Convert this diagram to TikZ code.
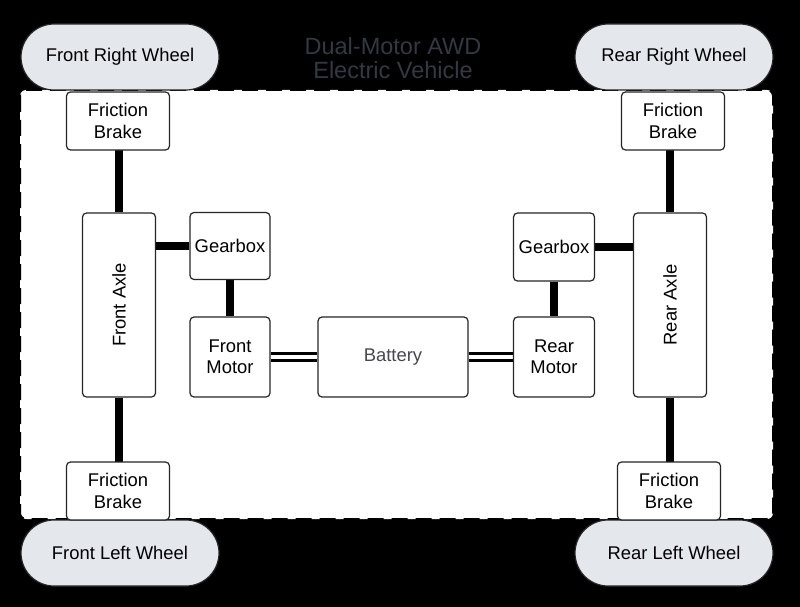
\documentclass[tikz,border=0pt]{standalone}
\usepackage{fontspec}
\setmainfont{Liberation Sans}
\usetikzlibrary{arrows,shapes}
\pgfdeclarelayer{canvas}
\pgfdeclarelayer{background}
\pgfsetlayers{canvas,background,main}
\definecolor{wheelgray}{RGB}{228,231,236}
\definecolor{titlegray}{RGB}{52,56,66}
\definecolor{battgray}{RGB}{70,72,76}
\tikzstyle{block}=[draw=black!85,fill=white,rounded corners=4pt,line width=1.2pt,align=center,inner sep=0pt,font=\fontsize{18.4}{21.5}\selectfont]
\tikzstyle{brake}=[block,minimum width=103pt,minimum height=58pt]
\tikzstyle{wheel}=[block,fill=wheelgray,rounded corners=33pt,minimum width=198pt,minimum height=66pt]
\tikzstyle{axle}=[block,rotate=90,minimum width=184pt,minimum height=73pt]
\tikzstyle{shaft}=[draw,line width=8pt,-]
\tikzstyle{power}=[draw,line width=3pt,double=white,double distance=4pt,-]
\tikzstyle{frame}=[draw,fill=white,line width=2pt,dash pattern=on 16pt off 8pt,rounded corners=6pt]

\begin{document}
\begin{tikzpicture}[x=1pt,y=-1pt]
    \useasboundingbox (0,0) rectangle (800,607);
    \begin{pgfonlayer}{canvas}
        \fill[black] (0,0) rectangle (800,607);
        \path[frame] (20,90) rectangle (773,519);
    \end{pgfonlayer}

    % Title
    \node[text=titlegray,align=center,font=\fontsize{23.5}{24}\selectfont] (title) at (393,58) {Dual-Motor AWD\\Electric Vehicle};

    % First we draw the wheels and brakes
    \foreach \pos/\name/\label in {{(120,57)/frw/Front Right Wheel}, {(674,57)/rrw/Rear Right Wheel}, {(120,553)/flw/Front Left Wheel}, {(674,553)/rlw/Rear Left Wheel}}
        \node[wheel] (\name) at \pos {\label};
    \foreach \pos/\name in {{(118,121)/fb_1}, {(673,121)/fb_2}, {(118,491)/fb_3}, {(669,491)/fb_4}}
        \node[brake] (\name) at \pos {Friction\\Brake};

    % Axles, gearboxes, motors and battery
    \node[axle] (faxle) at (119,305) {Front Axle};
    \node[axle] (raxle) at (670,305) {Rear Axle};
    \node[block,minimum width=80pt,minimum height=67pt] (fgear) at (230,246) {Gearbox};
    \node[block,minimum width=81pt,minimum height=68pt] (rgear) at (554,247) {Gearbox};
    \node[block,minimum width=80pt,minimum height=80pt] (fmotor) at (230,357) {Front\\Motor};
    \node[block,minimum width=81pt,minimum height=80pt] (rmotor) at (554,357) {Rear\\Motor};
    \node[block,minimum width=150pt,minimum height=80pt,text=battgray] (battery) at (393,357) {Battery};

    % Connect them
    \begin{pgfonlayer}{background}
        \foreach \source/\dest in {faxle/fb_1, faxle/fb_3, raxle/fb_2, raxle/fb_4}
            \path[shaft] (\source) -- (\source |- \dest);
        \foreach \source/\dest in {fgear/faxle, rgear/raxle}
            \path[shaft] (\source) -- (\source -| \dest);
        \foreach \source/\dest in {fgear/fmotor, rgear/rmotor}
            \path[shaft] (\source) -- (\dest);
        \foreach \source/\dest in {fmotor/battery, battery/rmotor}
            \path[power] (\source) -- (\dest);
    \end{pgfonlayer}
\end{tikzpicture}
\end{document}
